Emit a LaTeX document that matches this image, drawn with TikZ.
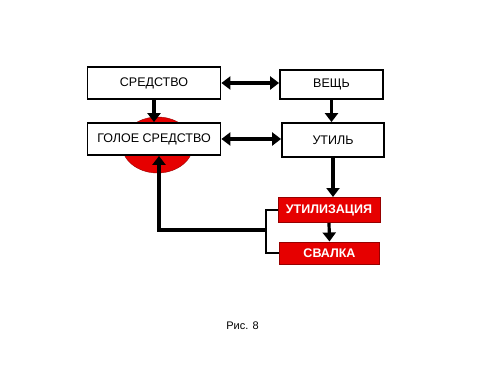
\documentclass[tikz,border=0pt]{standalone}
\usepackage{fontspec}
\setmainfont{Liberation Sans}
\usetikzlibrary{arrows.meta, shapes.geometric}
\definecolor{boxred}{RGB}{230, 0, 0}
\definecolor{edgered}{RGB}{150, 0, 0}

\begin{document}
\begin{tikzpicture}[
                x=1pt, y=-1pt,
                box/.style={draw=black, line width=1.8pt, fill=white, inner sep=0pt, font=\fontsize{12.5}{14}\selectfont},
                redbox/.style={draw=edgered, line width=1pt, fill=boxred, text=white, inner sep=0pt, font=\fontsize{12.5}{14}\selectfont\bfseries},
                arr/.style={line width=3.2pt, -{Triangle[length=9pt, width=13pt]}},
                dblarr/.style={line width=3.2pt, {Triangle[length=9pt, width=13pt]}-{Triangle[length=9pt, width=13pt]}}
            ]
                \useasboundingbox (0, 0) rectangle (500, 375);

                % Fondo rojo
                \node[ellipse, draw=edgered, fill=boxred, minimum width=71pt, minimum height=56pt] (blob) at (157.5, 145) {};

                % Cajas superiores
                \node[box, minimum width=133pt, minimum height=32pt] (sredstvo) at (154, 83) {СРЕДСТВО};
                \node[box, minimum width=103pt, minimum height=29pt] (veshch) at (331.5, 84.5) {ВЕЩЬ};
                \node[box, minimum width=133pt, minimum height=32pt] (goloe) at (154, 139) {ГОЛОЕ СРЕДСТВО};
                \node[box, minimum width=102pt, minimum height=34pt] (util) at (333, 140) {УТИЛЬ};

                % Cajas rojas
                \node[redbox, minimum width=102pt, minimum height=25pt] (utiliz) at (329, 210) {УТИЛИЗАЦИЯ};
                \node[redbox, minimum width=100pt, minimum height=22pt] (svalka) at (329.5, 253) {СВАЛКА};

                % Pie
                \node[font=\fontsize{11}{13}\selectfont] (caption) at (242.5, 326) {Рис. 8};

                % Flechas
                \draw[dblarr] (sredstvo.east) -- (sredstvo.east -| veshch.west);
                \draw[dblarr] (goloe.east) -- (goloe.east -| util.west);
                \draw[arr] (sredstvo.south) -- (goloe.north);
                \draw[arr] (veshch.south) -- (veshch.south |- util.north);
                \draw[arr] (util.south) -- (util.south |- utiliz.north);
                \draw[arr] (utiliz.south) -- (svalka.north);

                % Retorno
                \coordinate (fork) at (266, 230);
                \draw[line width=2pt] (utiliz.west) -| (fork) |- (svalka.west);
                \draw[arr] (fork) -| ([xshift=5pt]goloe.south);
            \end{tikzpicture}
\end{document}
